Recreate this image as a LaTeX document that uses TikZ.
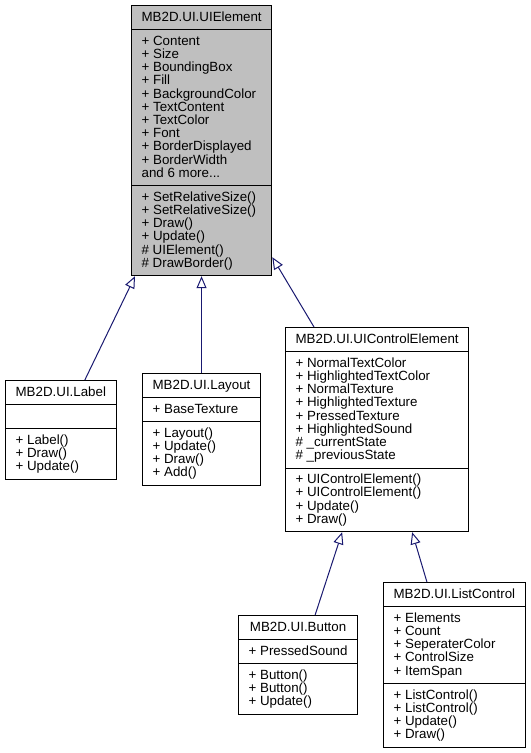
\documentclass[tikz,border=0pt]{standalone}
\usepackage{fontspec}
\setmainfont{Liberation Sans}
\usetikzlibrary{shapes.multipart,arrows.meta}

\definecolor{grey75}{RGB}{191,191,191}
\definecolor{edgeblue}{RGB}{25,25,112}
\newcommand{\rowstrut}{\rule[-2.2pt]{0pt}{9.9pt}}
\newcommand{\classfont}{\fontsize{10}{9.9}\selectfont\lineskiplimit=-100pt\relax}

\begin{document}
\begin{tikzpicture}[x=0.75pt,y=-0.75pt,
            umlclass/.style={rectangle split, rectangle split parts=3, draw, line width=0.75pt, inner xsep=7.6pt, inner ysep=3.7pt, rectangle split part align={center,left,left}, align=left, anchor=north west, font=\classfont},
            current/.style={umlclass, fill=grey75},
            inherit/.style={draw=edgeblue, line width=0.75pt, -{Triangle[open, length=9pt, width=7.5pt]}}
        ]
            \useasboundingbox (0,0) rectangle (531,753);

            % Base class
            \node[current] (elem) at (131,5) {\rowstrut MB2D.UI.UIElement\rowstrut
                \nodepart{two}\rowstrut + Content\\+ Size\\+ BoundingBox\\+ Fill\\+ BackgroundColor\\+ TextContent\\+ TextColor\\+ Font\\+ BorderDisplayed\\+ BorderWidth\\and 6 more...\rowstrut
                \nodepart{three}\rowstrut + SetRelativeSize()\\+ SetRelativeSize()\\+ Draw()\\+ Update()\\\# UIElement()\\\# DrawBorder()\rowstrut
            };
            % Label
            \node[umlclass] (label) at (5,380) {\rowstrut MB2D.UI.Label\rowstrut
                \nodepart{two}\rowstrut
                \nodepart{three}\rowstrut + Label()\\+ Draw()\\+ Update()\rowstrut
            };
            % Layout
            \node[umlclass] (layout) at (142,373) {\rowstrut MB2D.UI.Layout\rowstrut
                \nodepart{two}\rowstrut + BaseTexture\rowstrut
                \nodepart{three}\rowstrut + Layout()\\+ Update()\\+ Draw()\\+ Add()\rowstrut
            };
            % Control element
            \node[umlclass] (ctrl) at (285,327) {\rowstrut MB2D.UI.UIControlElement\rowstrut
                \nodepart{two}\rowstrut + NormalTextColor\\+ HighlightedTextColor\\+ NormalTexture\\+ HighlightedTexture\\+ PressedTexture\\+ HighlightedSound\\\# \_currentState\\\# \_previousState\rowstrut
                \nodepart{three}\rowstrut + UIControlElement()\\+ UIControlElement()\\+ Update()\\+ Draw()\rowstrut
            };
            % Button
            \node[umlclass] (btn) at (238,615) {\rowstrut MB2D.UI.Button\rowstrut
                \nodepart{two}\rowstrut + PressedSound\rowstrut
                \nodepart{three}\rowstrut + Button()\\+ Button()\\+ Update()\rowstrut
            };
            % List control
            \node[umlclass] (list) at (383,582) {\rowstrut MB2D.UI.ListControl\rowstrut
                \nodepart{two}\rowstrut + Elements\\+ Count\\+ SeperaterColor\\+ ControlSize\\+ ItemSpan\rowstrut
                \nodepart{three}\rowstrut + ListControl()\\+ ListControl()\\+ Update()\\+ Draw()\rowstrut
            };

            % Inheritance arrows
            \draw[inherit] ([xshift=18pt]label.north) -- ([xshift=3pt]elem.south west);
            \draw[inherit] (layout.north) -- (layout.north |- elem.south);
            \draw[inherit] ([xshift=21.75pt]ctrl.north west) -- ([yshift=14.25pt]elem.south east);
            \draw[inherit] ([xshift=12.75pt]btn.north) -- ([xshift=-26.25pt]ctrl.south);
            \draw[inherit] ([xshift=-20.6pt]list.north) -- ([xshift=26.25pt]ctrl.south);

        \end{tikzpicture}
\end{document}
